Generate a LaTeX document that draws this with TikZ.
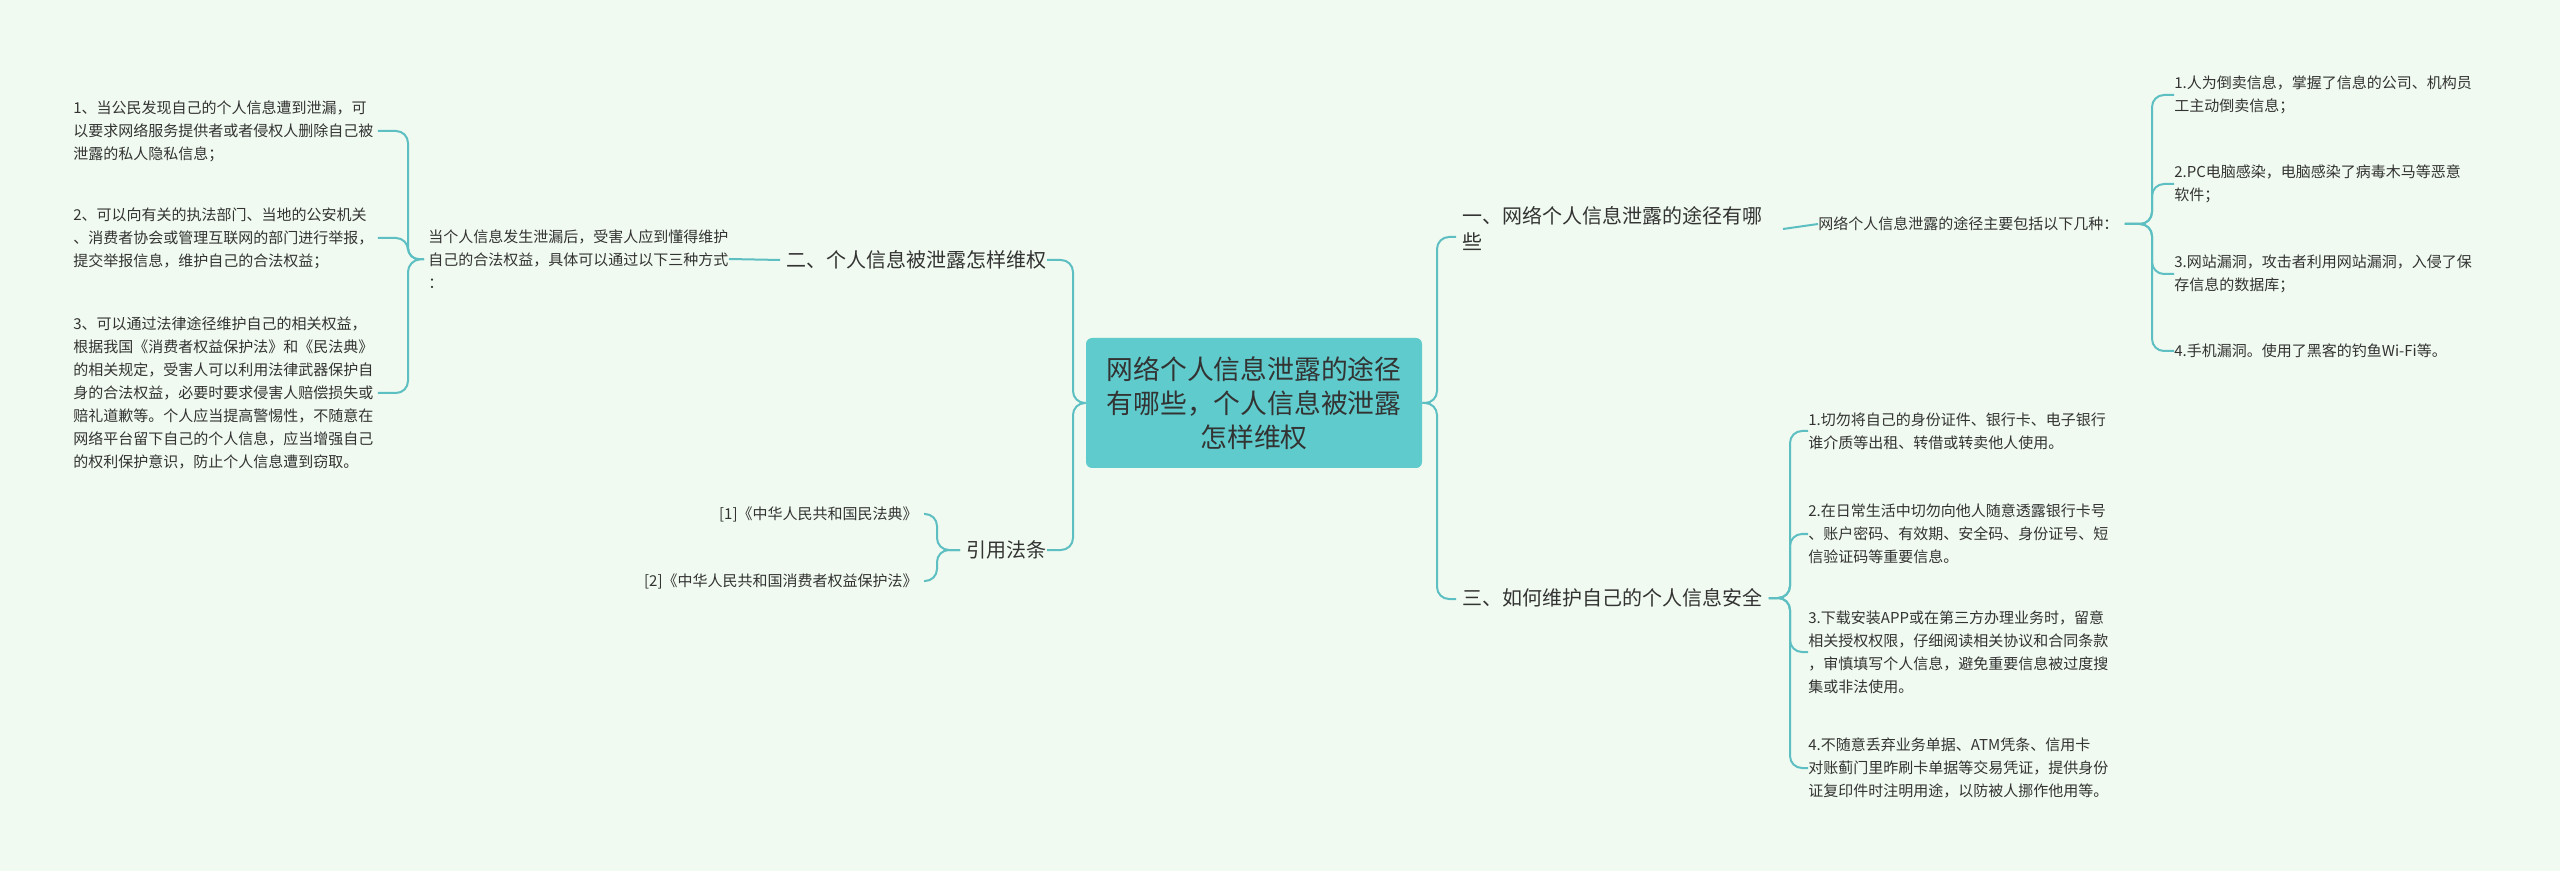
\documentclass[tikz,border=0pt]{standalone}
\usepackage{fontspec}
\usetikzlibrary{calc}
\newfontfamily\cjk{Noto Sans CJK SC}
\definecolor{bg}{HTML}{F0FAF0}
\definecolor{ln}{HTML}{5DBFC2}
\definecolor{tx}{HTML}{333333}
\definecolor{cbox}{HTML}{5FCBCC}
\begin{document}
\begin{tikzpicture}[x=0.5pt,y=-0.5pt,
  leaf/.style={font=\cjk\fontsize{7.5}{11.5}\selectfont,align=left,inner sep=0pt,text=tx},
  branch/.style={font=\cjk\fontsize{10}{13}\selectfont,align=left,inner sep=0pt,text=tx},
  conn/.style={draw=ln,line width=1pt,rounded corners=6pt}]
\fill[bg] (0,0) rectangle (2560,871);
\useasboundingbox (0,0) rectangle (2560,871);
% center
\node[fill=cbox,rounded corners=3pt,minimum width=168pt,minimum height=65pt,align=center,text=tx,
  font=\cjk\fontsize{13.4}{17}\selectfont,inner sep=2pt] (c) at (1254,403)
  {网络个人信息泄露的途径\\有哪些，个人信息被泄露\\怎样维权};
% right branches
\node[branch,anchor=west] (b1) at (1462,229) {一、网络个人信息泄露的途径有哪\\些};
\node[branch,anchor=west] (b3) at (1462,598) {三、如何维护自己的个人信息安全};
\node[leaf,anchor=west] (l1) at (1818,224) {网络个人信息泄露的途径主要包括以下几种：};
\node[leaf,anchor=west] (r1) at (2174,95) {1.人为倒卖信息，掌握了信息的公司、机构员\\工主动倒卖信息；};
\node[leaf,anchor=west] (r2) at (2174,184) {2.PC电脑感染，电脑感染了病毒木马等恶意\\软件；};
\node[leaf,anchor=west] (r3) at (2174,274) {3.网站漏洞，攻击者利用网站漏洞，入侵了保\\存信息的数据库；};
\node[leaf,anchor=west] (r4) at (2174,351) {4.手机漏洞。使用了黑客的钓鱼Wi-Fi等。};
\node[leaf,anchor=west] (s1) at (1808,431) {1.切勿将自己的身份证件、银行卡、电子银行\\谁介质等出租、转借或转卖他人使用。};
\node[leaf,anchor=west] (s2) at (1808,534) {2.在日常生活中切勿向他人随意透露银行卡号\\、账户密码、有效期、安全码、身份证号、短\\信验证码等重要信息。};
\node[leaf,anchor=west] (s3) at (1808,652) {3.下载安装APP或在第三方办理业务时，留意\\相关授权权限，仔细阅读相关协议和合同条款\\，审慎填写个人信息，避免重要信息被过度搜\\集或非法使用。};
\node[leaf,anchor=west] (s4) at (1808,768) {4.不随意丢弃业务单据、ATM凭条、信用卡\\对账蓟门里昨刷卡单据等交易凭证，提供身份\\证复印件时注明用途，以防被人挪作他用等。};
% left branches
\node[branch,anchor=east] (b2) at (1047,260) {二、个人信息被泄露怎样维权};
\node[branch,anchor=east] (b4) at (1047,550) {引用法条};
\node[leaf,anchor=west] (l2) at (428,259) {当个人信息发生泄漏后，受害人应到懂得维护\\自己的合法权益，具体可以通过以下三种方式\\：};
\node[leaf,anchor=west] (p1) at (73,131) {1、当公民发现自己的个人信息遭到泄漏，可\\以要求网络服务提供者或者侵权人删除自己被\\泄露的私人隐私信息；};
\node[leaf,anchor=west] (p2) at (73,238) {2、可以向有关的执法部门、当地的公安机关\\、消费者协会或管理互联网的部门进行举报，\\提交举报信息，维护自己的合法权益；};
\node[leaf,anchor=west] (p3) at (73,393) {3、可以通过法律途径维护自己的相关权益，\\根据我国《消费者权益保护法》和《民法典》\\的相关规定，受害人可以利用法律武器保护自\\身的合法权益，必要时要求侵害人赔偿损失或\\赔礼道歉等。个人应当提高警惕性，不随意在\\网络平台留下自己的个人信息，应当增强自己\\的权利保护意识，防止个人信息遭到窃取。};
\node[leaf,anchor=east] (q1) at (918,514) {[1]《中华人民共和国民法典》};
\node[leaf,anchor=east] (q2) at (918,581) {[2]《中华人民共和国消费者权益保护法》};
% connectors
\coordinate (cr) at (1437,403);
\coordinate (cl) at (1073,403);
\foreach \n/\y in {b1/237,b3/599} \draw[conn] (c.east) -- (cr) |- (1456,\y);
\foreach \n/\y in {b2/260,b4/550} \draw[conn] (c.west) -- (cl) |- (\n.east);
\draw[conn] (1783,229) -- (l1.west);
\foreach \n in {r1,r2,r3,r4} \draw[conn] (l1.east) ++(6,0) -- (2152,224) |- (\n.west);
\foreach \n in {s1,s2,s3,s4} \draw[conn] (b3.east) ++(6,0) -- (1790,598) |- (\n.west);
\draw[conn] (b2.west) ++(-6,0) -- (l2.east);
\foreach \n in {p1,p2,p3} \draw[conn] (l2.west) ++(-4,0) -- (408,260) |- ($(\n.east)+(4,0)$);
\foreach \n in {q1,q2} \draw[conn] (b4.west) ++(-6,0) -- (937,550) |- ($(\n.east)+(6,0)$);
\end{tikzpicture}
\end{document}
